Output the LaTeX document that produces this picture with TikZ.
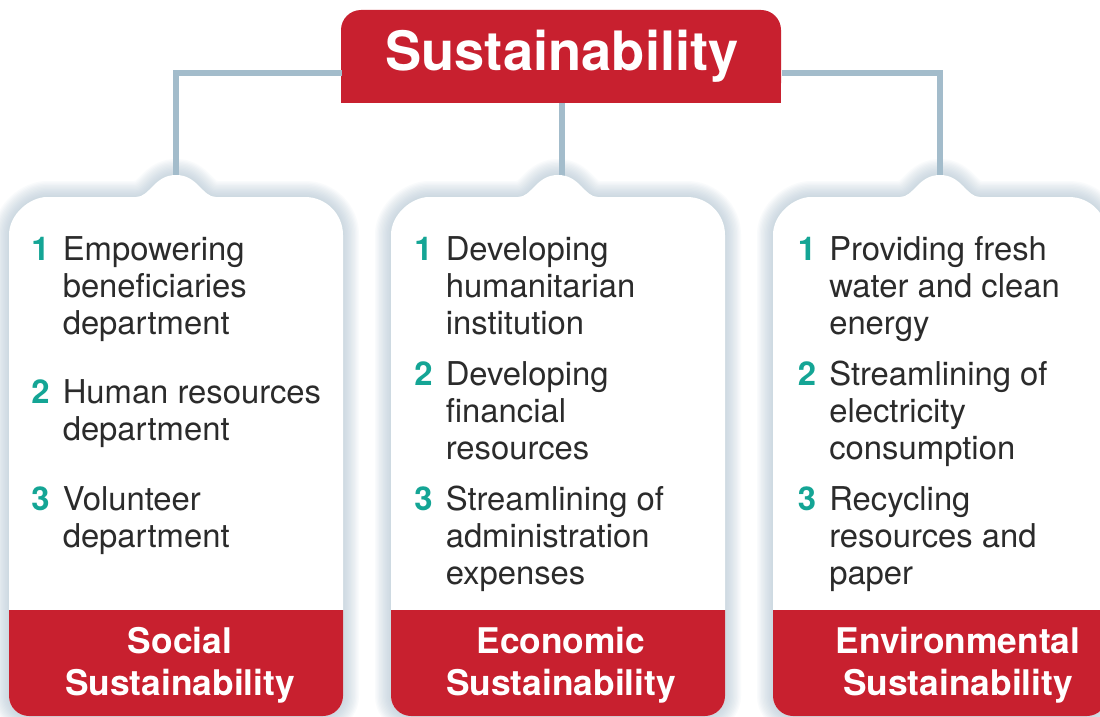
\documentclass[tikz,border=0pt]{standalone}
\usepackage{fontspec}
\setmainfont{TeX Gyre Heros}

\definecolor{sred}{HTML}{C8202F}
\definecolor{steal}{HTML}{14A595}
\definecolor{sline}{HTML}{A3BCCB}
\definecolor{sshadow}{HTML}{A9BFCF}
\definecolor{stext}{HTML}{2B2B2B}

% card outline, #1 = x of the card centre (pixels)
\newcommand{\cardpath}[1]{({#1-167},696) -- ({#1-167},235) .. controls ({#1-167},214) and ({#1-146},197) .. ({#1-129},197) -- ({#1-40},197) .. controls ({#1-26},197) and ({#1-22},175) .. (#1,175) .. controls ({#1+22},175) and ({#1+26},197) .. ({#1+40},197) -- ({#1+129},197) .. controls ({#1+150},197) and ({#1+167},214) .. ({#1+167},235) -- ({#1+167},696) .. controls ({#1+167},707) and ({#1+158},716) .. ({#1+147},716) -- ({#1-147},716) .. controls ({#1-158},716) and ({#1-167},707) .. ({#1-167},696) -- cycle}
\newcommand{\bandpath}[1]{({#1-167},610) -- ({#1+167},610) -- ({#1+167},696) .. controls ({#1+167},707) and ({#1+158},716) .. ({#1+147},716) -- ({#1-147},716) .. controls ({#1-158},716) and ({#1-167},707) .. ({#1-167},696) -- cycle}
\newcommand{\stack}[2][l]{\begin{tabular}[t]{@{}#1@{}}#2\end{tabular}}

\tikzset{
  link/.style={draw=sline, line width=3.8pt},
  itemtxt/.style={anchor=base west, inner sep=0pt, text=stext, font=\fontsize{24.6}{28.1}\selectfont},
  itemnum/.style={anchor=base west, inner sep=0pt, text=steal, font=\fontsize{24.6}{28.1}\selectfont\bfseries},
  bandtxt/.style={anchor=base, inner sep=0pt, text=white, font=\fontsize{26.5}{31.5}\selectfont\bfseries},
}

\begin{document}
\begin{tikzpicture}[x=0.75pt, y=-0.75pt]
    \clip (0,0) rectangle (1100,717);
    \fill[white] (0,0) rectangle (1100,717);

    % soft glow round the cards
    \foreach \c in {176,558,940}
        \foreach \w in {2,4,...,24}
            \draw[sshadow, line width=\w pt, opacity=0.06, line join=round] \cardpath{\c};

    % title box
    \fill[sred, rounded corners=15pt] (341,10) rectangle (781,103);
    \fill[sred] (341,60) rectangle (781,103);
    \node[minimum width=330pt, minimum height=69.75pt, inner sep=0pt, text=white,
          font=\fontsize{40.7}{48}\selectfont\bfseries] (title) at (562,56.5) {Sustainability};

    \coordinate (soc) at (176,176);
    \coordinate (eco) at (558,176);
    \coordinate (env) at (940,176);

    \draw[link] ([yshift=-12.4pt]title.west) -| (soc);
    \draw[link] ([yshift=-12.4pt]title.east) -| (env);
    \draw[link] (title.south) -- (title.south |- eco);

    % cards
    \foreach \c in {176,558,940} {
        \fill[white] \cardpath{\c};
        \fill[sred] \bandpath{\c};
    }

    % social
    \node[itemnum] (s1n) at (31,260) {1};
    \node[itemtxt] (s1) at (62.5,260) {\stack{Empowering\\beneficiaries\\department}};
    \node[itemnum] (s2n) at (31,403) {2};
    \node[itemtxt] (s2) at (62.5,403) {\stack{Human resources\\department}};
    \node[itemnum] (s3n) at (31,510) {3};
    \node[itemtxt] (s3) at (62.5,510) {\stack{Volunteer\\department}};
    \node[bandtxt] (social) at (180,653) {\stack[c]{Social\\Sustainability}};

    % economic
    \node[itemnum] (e1n) at (414,260) {1};
    \node[itemtxt] (e1) at (445.5,260) {\stack{Developing\\humanitarian\\institution}};
    \node[itemnum] (e2n) at (414,385) {2};
    \node[itemtxt] (e2) at (445.5,385) {\stack{Developing\\financial\\resources}};
    \node[itemnum] (e3n) at (414,510) {3};
    \node[itemtxt] (e3) at (445.5,510) {\stack{Streamlining of\\administration\\expenses}};
    \node[bandtxt] (economic) at (561,653) {\stack[c]{Economic\\Sustainability}};

    % environmental
    \node[itemnum] (n1n) at (797.5,260) {1};
    \node[itemtxt] (n1) at (829,260) {\stack{Providing fresh\\water and clean\\energy}};
    \node[itemnum] (n2n) at (797.5,385) {2};
    \node[itemtxt] (n2) at (829,385) {\stack{Streamlining of\\electricity\\consumption}};
    \node[itemnum] (n3n) at (797.5,510) {3};
    \node[itemtxt] (n3) at (829,510) {\stack{Recycling\\resources and\\paper}};
    \node[bandtxt] (environmental) at (958,653) {\stack[c]{Environmental\\Sustainability}};

\end{tikzpicture}
\end{document}
